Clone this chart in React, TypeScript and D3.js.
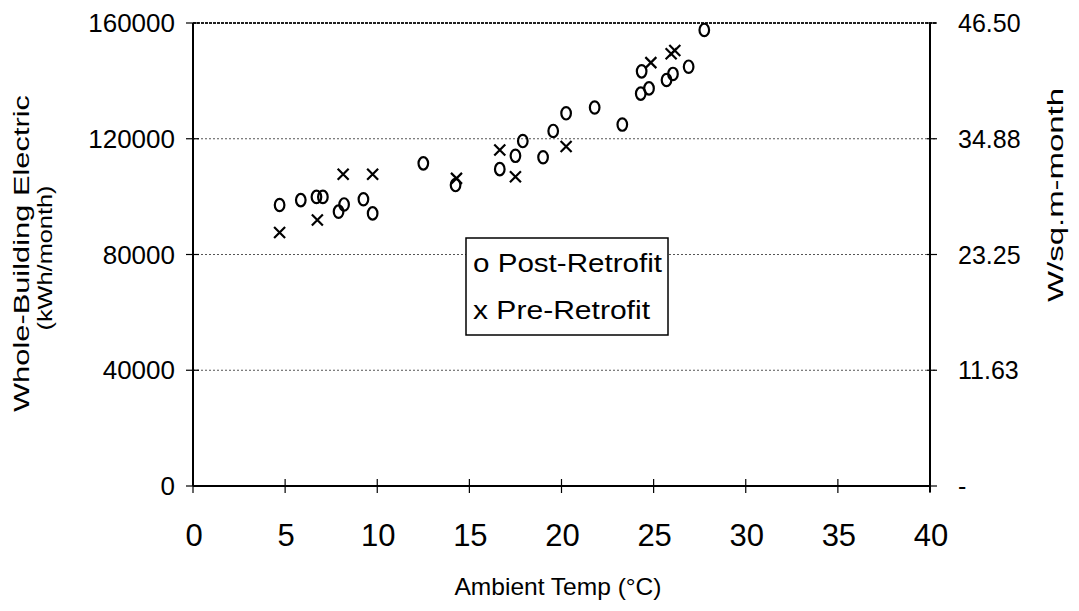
import React from "react";
import * as d3 from "d3";

// Post-Retrofit (circles): [ambient temp °C, kWh/month]
const postTemp = [4.7, 5.85, 6.7, 7.05, 7.9, 8.2, 9.25, 9.75, 12.5, 14.25, 16.65, 17.5, 17.9, 19.0, 19.55, 20.25, 21.8, 23.3, 24.3, 24.35, 24.75, 25.7, 26.05, 26.9, 27.75];
const postKwh = [97100, 98800, 99900, 99900, 94800, 97300, 99100, 94200, 111500, 104000, 109500, 114100, 119200, 113600, 122700, 128800, 130800, 124900, 135600, 143300, 137400, 140300, 142400, 144900, 157600];

// Pre-Retrofit (crosses)
const preTemp = [4.7, 6.75, 8.15, 9.75, 14.3, 16.65, 17.5, 20.25, 24.85, 25.95, 26.15];
const preKwh = [87600, 91900, 107700, 107700, 106300, 116100, 106900, 117300, 146300, 149400, 150500];

const xTicks = [0, 5, 10, 15, 20, 25, 30, 35, 40];
const yTicks = [0, 40000, 80000, 120000, 160000];
const rightTicks = [0, 11.625, 23.25, 34.875, 46.5];
const rightLabels = ["-", "11.63", "23.25", "34.88", "46.50"];

const FONT = "'Liberation Sans', Arial, Helvetica, sans-serif";

export default function App() {
  const x = d3.scaleLinear().domain([0, 40]).range([193, 930]);
  const y = d3.scaleLinear().domain([0, 160000]).range([486, 23]);
  const yR = d3.scaleLinear().domain([0, 46.5]).range([486, 23]);
  const x0 = x(0), x1 = x(40), yb = y(0), yt = y(160000);

  const post = postTemp.map((t, i) => ({ t, v: postKwh[i] }));
  const pre = preTemp.map((t, i) => ({ t, v: preKwh[i] }));

  return (
    <svg width={1079} height={611} style={{ position: "absolute", left: 0, top: 0, background: "#fff" }} fontFamily={FONT}>
      <rect x={0} y={0} width={1079} height={611} fill="#fff" />
      {/* gridlines */}
      {yTicks.filter((v) => v > 0 && v < 160000).map((v) => (
        <line key={"g" + v} x1={x0} x2={x1 + 6} y1={y(v)} y2={y(v)} stroke="#555" strokeWidth={1} strokeDasharray="2,2" />
      ))}
      <line x1={x0} x2={x1 + 6} y1={yt} y2={yt} stroke="#222" strokeWidth={2} strokeDasharray="3,1" />
      {/* axes */}
      <line x1={x0} x2={x0} y1={yt} y2={yb} stroke="#000" strokeWidth={2} />
      <line x1={x1} x2={x1} y1={yt} y2={yb + 6} stroke="#000" strokeWidth={2} />
      <line x1={x0} x2={x1} y1={yb} y2={yb} stroke="#000" strokeWidth={2} />
      {/* left ticks */}
      {yTicks.map((v) => (
        <g key={"l" + v}>
          <line x1={x0 - 7} x2={x0 + 6} y1={y(v)} y2={y(v)} stroke="#000" strokeWidth={1.2} />
          <text x={175} y={y(v) + 9} textAnchor="end" fontSize={26} fill="#000">{v}</text>
        </g>
      ))}
      {/* right ticks */}
      {rightTicks.map((v, i) => (
        <g key={"r" + v}>
          <line x1={x1 - 3} x2={x1 + 7} y1={yR(v)} y2={yR(v)} stroke="#000" strokeWidth={1.2} />
          <text x={958} y={yR(v) + 9} textAnchor="start" fontSize={25} fill="#000">{rightLabels[i]}</text>
        </g>
      ))}
      {/* bottom ticks */}
      {xTicks.map((v) => (
        <g key={"b" + v}>
          <line x1={x(v)} x2={x(v)} y1={yb - 7} y2={yb + 7} stroke="#000" strokeWidth={1.2} />
          <text x={x(v) + 1} y={546} textAnchor="middle" fontSize={31} fill="#000">{v}</text>
        </g>
      ))}
      {/* titles */}
      <text x={558} y={595} textAnchor="middle" fontSize={24} textLength={207} lengthAdjust="spacingAndGlyphs">Ambient Temp (°C)</text>
      <text transform="translate(29,253.5) rotate(-90)" textAnchor="middle" fontSize={22} textLength={317} lengthAdjust="spacingAndGlyphs">Whole-Building Electric</text>
      <text transform="translate(52,258) rotate(-90)" textAnchor="middle" fontSize={21} textLength={145} lengthAdjust="spacingAndGlyphs">(kWh/month)</text>
      <text transform="translate(1063,195) rotate(-90)" textAnchor="middle" fontSize={22} textLength={214} lengthAdjust="spacingAndGlyphs">W/sq.m-month</text>
      {/* markers */}
      {post.map((d, i) => (
        <ellipse key={"p" + i} cx={x(d.t)} cy={y(d.v)} rx={4.8} ry={6.2} fill="none" stroke="#000" strokeWidth={2.2} />
      ))}
      {pre.map((d, i) => {
        const cx = x(d.t), cy = y(d.v), s = 5.5;
        return (
          <path key={"x" + i} d={`M${cx - s},${cy - s}L${cx + s},${cy + s}M${cx - s},${cy + s}L${cx + s},${cy - s}`} stroke="#000" strokeWidth={2.2} fill="none" />
        );
      })}
      {/* legend */}
      <rect x={466} y={238} width={202} height={97} fill="#fff" stroke="#000" strokeWidth={1.5} />
      <text x={473} y={272} fontSize={26} textLength={189} lengthAdjust="spacingAndGlyphs">o Post-Retrofit</text>
      <text x={473} y={319} fontSize={26} textLength={177} lengthAdjust="spacingAndGlyphs">x Pre-Retrofit</text>
    </svg>
  );
}
